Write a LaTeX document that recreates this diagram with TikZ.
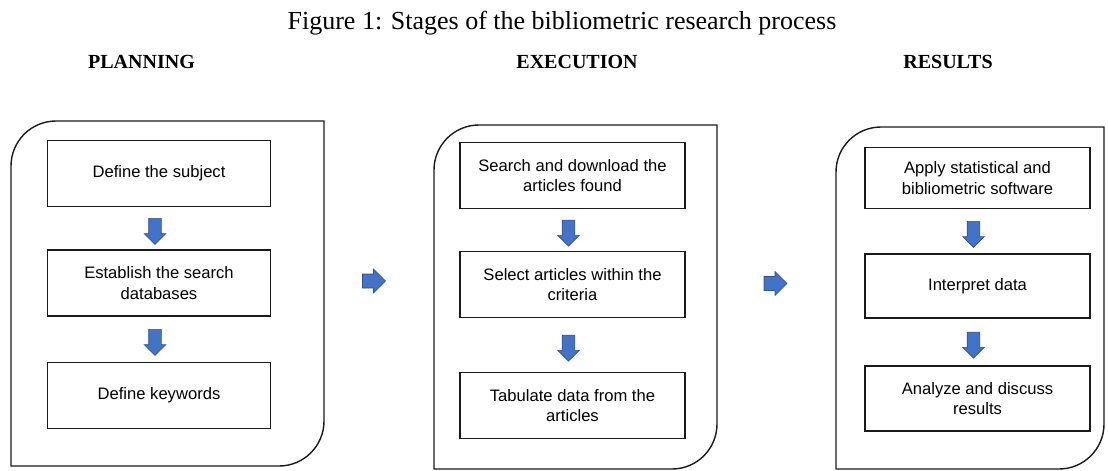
\documentclass[tikz,border=0pt]{standalone}
\usepackage{fontspec}
\setmainfont{Liberation Serif}
\setsansfont{Liberation Sans}
\usetikzlibrary{shapes.arrows,calc,positioning}
\definecolor{ink}{HTML}{1A1A1A}
\definecolor{arrowblue}{HTML}{4472C4}
\definecolor{arrowedge}{HTML}{2F528F}
\tikzset{
  figtitle/.style={font=\fontsize{26}{30}\selectfont,anchor=base,inner sep=0pt},
  stagehead/.style={font=\fontsize{20}{24}\selectfont\bfseries,anchor=base,inner sep=0pt},
  stagepanel/.style={draw=ink,line width=1.4pt},
  stepbox/.style={draw=ink,line width=1.1pt,
                  minimum width=223pt,minimum height=66pt,
                  align=center,inner sep=2pt,
                  font=\fontsize{16.6}{20.5}\selectfont\sffamily},
  blockarrow/.style={single arrow,draw=arrowedge,fill=arrowblue,line width=0.6pt,
                     minimum width=21pt,minimum height=26pt,
                     single arrow head extend=4.5pt,single arrow head indent=0pt,
                     inner xsep=0pt,inner ysep=6pt},
  downarrow/.style={blockarrow,shape border rotate=270,inner xsep=6pt,inner ysep=0pt}
}

\begin{document}
\begin{tikzpicture}[x=1pt,y=-1pt]
  \useasboundingbox (0,0) rectangle (1108,471);

  \node[figtitle] (title) at (562,29) {Figure 1: Stages of the bibliometric research process};
  \node[stagehead] (hplan) at (141.5,68) {PLANNING};
  \node[stagehead] (hexec) at (577,68) {EXECUTION};
  \node[stagehead] (hres) at (948,68) {RESULTS};

  % stage panels, round corner top left and bottom right
  \foreach \l/\t/\r/\b in {11/121/324/466,434/125/717/469,836/127/1104/469} {
    \draw[stagepanel] (\l,\b) -- (\l,\t+45) arc[start angle=180,end angle=270,radius=45]
      -- (\r,\t) -- (\r,\b-45) arc[start angle=0,end angle=90,radius=45] -- cycle;
  }

  \node[stepbox] (plan1) at (159,173.5) {Define the subject};
  \node[stepbox] (plan2) at (159,283) {Establish the search\\databases};
  \node[stepbox] (plan3) at (159,395.5) {Define keywords};

  \node[stepbox,minimum width=225pt] (exec1) at (572.5,175.5) {Search and download the\\articles found};
  \node[stepbox,minimum width=225pt] (exec2) at (572.5,284.5) {Select articles within the\\criteria};
  \node[stepbox,minimum width=225pt] (exec3) at (572.5,405.5) {Tabulate data from the\\articles};

  \node[stepbox,minimum width=225pt,minimum height=61pt] (res1) at (977.5,178) {Apply statistical and\\bibliometric software};
  \node[stepbox,minimum width=225pt,minimum height=64pt] (res2) at (977.5,286) {Interpret data};
  \node[stepbox,minimum width=225pt,minimum height=65pt] (res3) at (977.5,398.5) {Analyze and discuss\\results};

  \foreach \s in {plan,exec,res} {
    \node[downarrow] (\s-a1) at ($(\s1.south)!0.5!(\s2.north)+(-4,0)$) {};
    \node[downarrow] (\s-a2) at ($(\s2.south)!0.5!(\s3.north)+(-4,0)$) {};
  }

  \node[blockarrow,minimum width=24pt,minimum height=23pt] (step-a) at (370.5,281) {};
  \node[blockarrow,minimum width=24pt,minimum height=23pt] (step-b) at (772,283.5) {};
\end{tikzpicture}
\end{document}
